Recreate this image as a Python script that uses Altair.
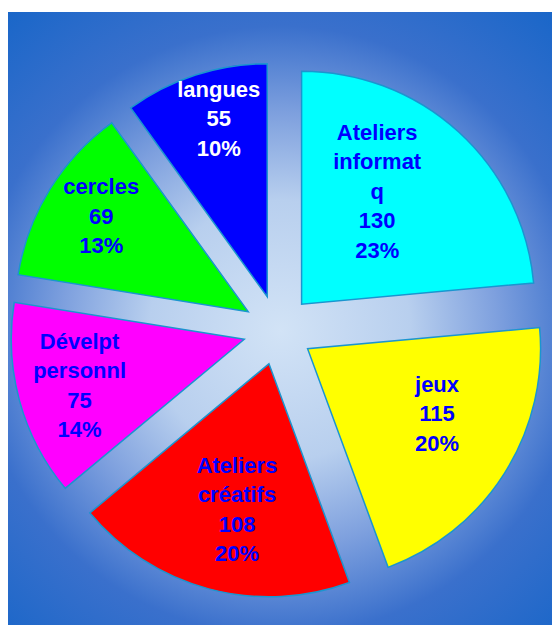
import altair as alt
import pandas as pd

# ---- data ----
categories = ["Ateliers informatq", "jeux", "Ateliers créatifs", "Dévelpt personnl", "cercles", "langues"]
label_lines = ["Ateliers\ninformat\nq", "jeux", "Ateliers\ncréatifs", "Dévelpt\npersonnl", "cercles", "langues"]
values = [130, 115, 108, 75, 69, 55]
percents = [23, 20, 20, 14, 13, 10]
slice_colors = ["#00FFFF", "#FFFF00", "#FF0000", "#FF00FF", "#00FF00", "#0000FF"]
text_colors = ["#0000FF", "#0000FF", "#0000FF", "#0000FF", "#0000FF", "#FFFFFF"]

df = pd.DataFrame({
    "cat": categories,
    "lab": label_lines,
    "val": values,
    "pct": percents,
    "fc": slice_colors,
    "tc": text_colors,
    "order": list(range(len(categories))),
})
df["text"] = df["lab"] + "\n" + df["val"].astype(str) + "\n" + df["pct"].astype(str) + "%"

# ---- layout ----
W, H = 544, 617
CX, CY = 270, 322
R = 233
EXPLODE = 35
LH = 29.5

base = (
    alt.Chart(df)
    .transform_joinaggregate(total="sum(val)")
    .transform_window(cum="sum(val)", sort=[alt.SortField("order")], frame=[None, 0])
    .transform_calculate(
        t1="2*PI*datum.cum/datum.total",
        t0="2*PI*(datum.cum-datum.val)/datum.total",
        nl="length(split(datum.text, '\\n'))",
    )
    .transform_calculate(
        mid="(datum.t0+datum.t1)/2",
        span="(datum.t1-datum.t0)*180/PI",
    )
    .transform_calculate(
        px=f"{CX}+{EXPLODE}*sin(datum.mid)",
        py=f"{CY}-{EXPLODE}*cos(datum.mid)",
        lr="255-datum.span",
        la="1.03*datum.mid-0.14",
    )
    .transform_calculate(
        lx=f"{CX}+datum.lr*sin(datum.la)",
        ly=f"{CY}-datum.lr*cos(datum.la)-(datum.nl-1)*{LH}/2",
    )
)

arcs = base.mark_arc(radius=R, stroke="#1b95cf", strokeWidth=1.5).encode(
    theta=alt.Theta("t0:Q", scale=None, stack=None),
    theta2="t1:Q",
    x=alt.X("px:Q", scale=None, axis=None),
    y=alt.Y("py:Q", scale=None, axis=None),
    fill=alt.Fill("fc:N", scale=None, legend=None),
)

labels = base.mark_text(
    font="Liberation Sans", fontWeight="bold", fontSize=22,
    lineBreak="\n", lineHeight=LH, align="center", baseline="middle",
).encode(
    x=alt.X("lx:Q", scale=None, axis=None),
    y=alt.Y("ly:Q", scale=None, axis=None),
    text="text:N",
    fill=alt.Fill("tc:N", scale=None, legend=None),
)

gradient = alt.RadialGradient(
    gradient="radial",
    x1=0.5, y1=0.52, r1=0,
    x2=0.5, y2=0.52, r2=0.71,
    stops=[
        alt.GradientStop(offset=0.0, color="#d2e3f6"),
        alt.GradientStop(offset=0.3, color="#b8cfee"),
        alt.GradientStop(offset=0.5, color="#7ea0de"),
        alt.GradientStop(offset=0.7, color="#3a70cc"),
        alt.GradientStop(offset=1.0, color="#1565c8"),
    ],
)

bg = alt.Chart(alt.Data(values=[{}])).mark_rect(fill=gradient).encode(
    x=alt.value(0), x2=alt.value(W), y=alt.value(4), y2=alt.value(H)
)

chart = (
    alt.layer(bg, arcs, labels)
    .properties(width=W, height=H, padding=0, autosize="none")
    .configure_view(stroke=None)
)

chart.save("out.html", embed_options={"renderer": "svg", "actions": False})
